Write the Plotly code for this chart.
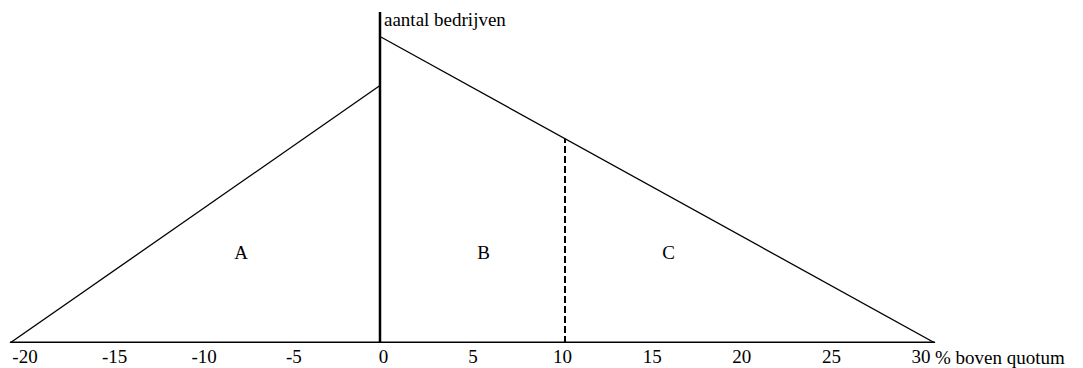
import plotly.graph_objects as go

# x-axis: % boven quotum
tick_vals = [-20, -15, -10, -5, 0, 5, 10, 15, 20, 25, 30]

# left triangle (below quotum) and right triangle (above quotum)
left_x = [-20, 0]
left_y = [0, 84]
right_x = [0, 30]
right_y = [100, 0]

# dashed split between B and C
split_x = 10
y_top = 108

region_labels = ["A", "B", "C"]
region_x = [-7.5, 5.6, 15.6]
region_y = [29, 29, 29]

font = dict(family="Liberation Serif, Times New Roman, serif", size=19, color="black")

split_y = right_y[0] + (right_y[1] - right_y[0]) * (split_x - right_x[0]) / (right_x[1] - right_x[0])

fig = go.Figure()

# baseline
fig.add_trace(go.Scatter(x=[tick_vals[0], tick_vals[-1]], y=[0, 0], mode="lines",
                         line=dict(color="black", width=3), hoverinfo="skip"))
# vertical axis at 0
fig.add_trace(go.Scatter(x=[0, 0], y=[0, y_top], mode="lines",
                         line=dict(color="black", width=2.5), hoverinfo="skip"))
fig.add_trace(go.Scatter(x=left_x, y=left_y, mode="lines",
                         line=dict(color="black", width=1.3), hoverinfo="skip"))
fig.add_trace(go.Scatter(x=right_x, y=right_y, mode="lines",
                         line=dict(color="black", width=1.3), hoverinfo="skip"))
fig.add_trace(go.Scatter(x=[split_x, split_x], y=[0, split_y], mode="lines",
                         line=dict(color="black", width=2, dash="7px,3px"), hoverinfo="skip"))
fig.add_trace(go.Scatter(x=region_x, y=region_y, mode="text", text=region_labels,
                         textfont=font, textposition="middle center", hoverinfo="skip"))

# invisible overlay axis that only carries the tick labels
fig.add_trace(go.Scatter(x=tick_vals, y=[0] * len(tick_vals), xaxis="x2", mode="markers",
                         marker=dict(opacity=0), hoverinfo="skip"))

fig.add_annotation(x=0, y=105.4, xref="x", yref="y", text="aantal bedrijven",
                   showarrow=False, xanchor="left", yanchor="middle", xshift=2, font=font)
fig.add_annotation(x=30, y=0, xref="x2", yref="y", text="% boven quotum",
                   showarrow=False, xanchor="left", yanchor="middle", xshift=12, yshift=-14,
                   font=font)

fig.update_layout(
    width=1083, height=368,
    margin=dict(l=0, r=0, t=12, b=25),
    paper_bgcolor="white", plot_bgcolor="white",
    showlegend=False,
    xaxis=dict(range=[-20.54, 38.0], visible=False, fixedrange=True),
    xaxis2=dict(range=[-21.395, 39.04], overlaying="x", anchor="y", side="bottom",
                tickvals=tick_vals, ticktext=[str(v) for v in tick_vals],
                showgrid=False, zeroline=False, showline=False, ticks="",
                tickfont=font, automargin=False),
    yaxis=dict(range=[0, y_top], visible=False, fixedrange=True),
)

fig.write_html("out.html", config={"displayModeBar": False},
               post_script="document.body.style.margin='0';document.body.style.overflow='hidden';")
